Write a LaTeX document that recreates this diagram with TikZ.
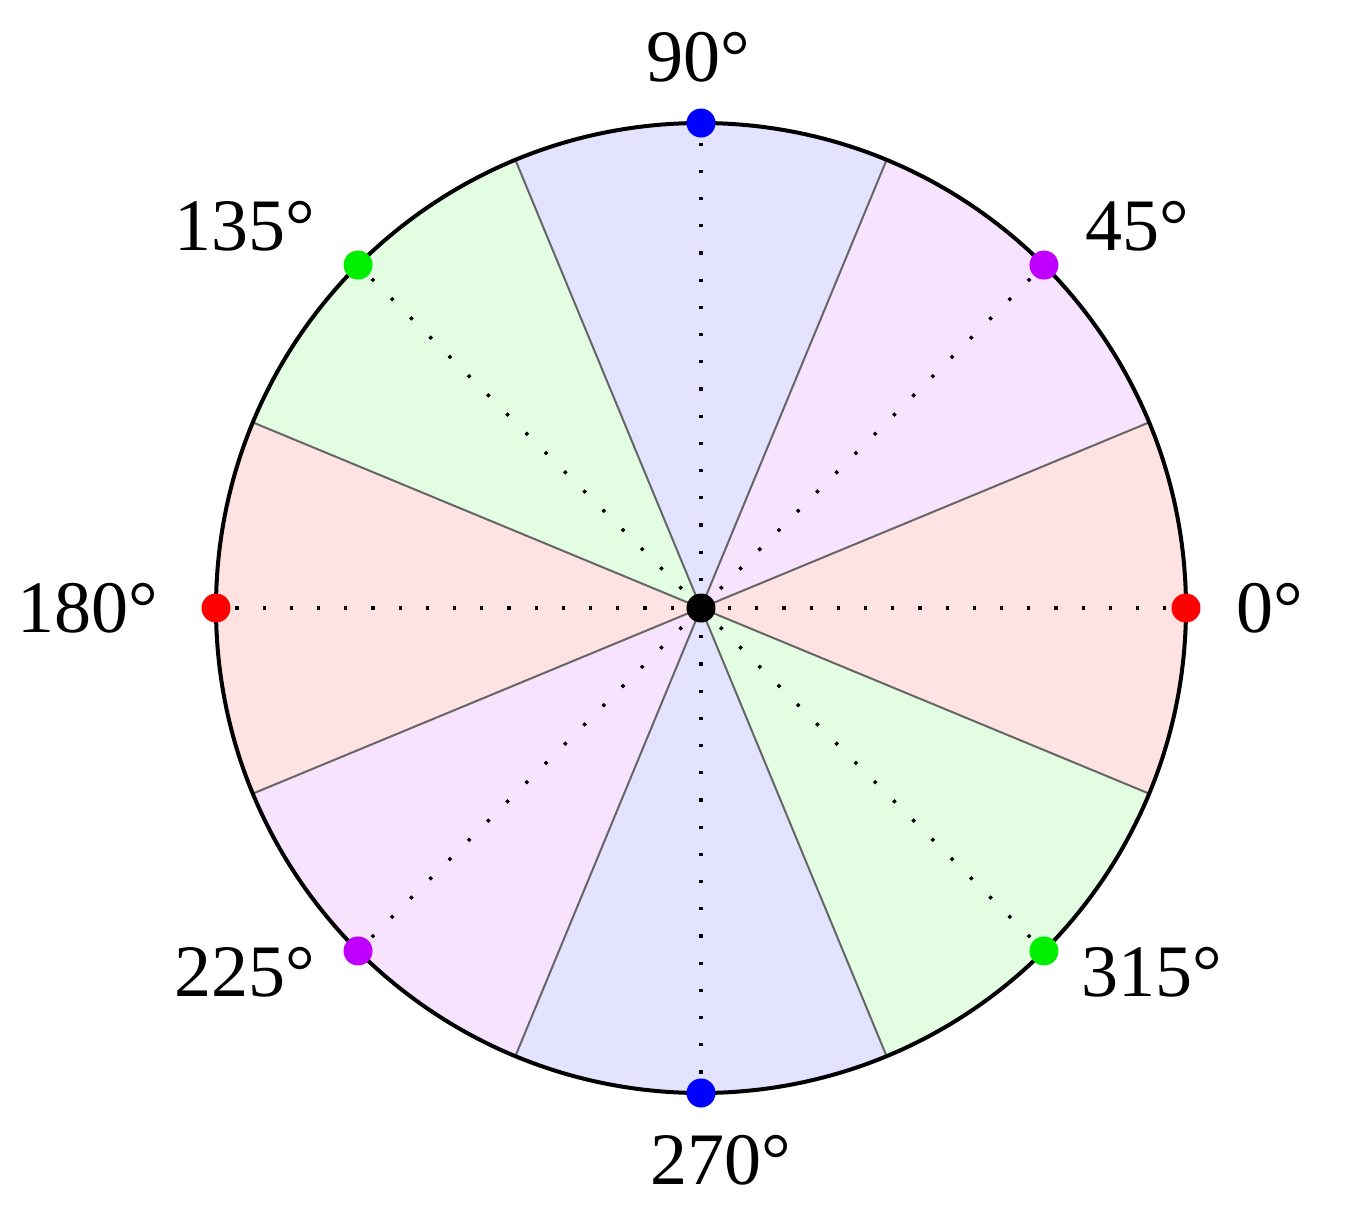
\documentclass[tikz,border=0pt]{standalone}
\usepackage{fontspec}
\setmainfont{Liberation Serif}
\definecolor{cR}{RGB}{255,0,0}
\definecolor{cP}{RGB}{191,0,255}
\definecolor{cB}{RGB}{0,0,255}
\definecolor{cG}{RGB}{0,238,0}
\begin{document}
\begin{tikzpicture}[x=0.5pt,y=0.5pt,
  lbl/.style={font=\fontsize{37}{40}\selectfont, inner sep=0pt},
  pt/.style={circle, fill=#1, minimum size=14.5pt, inner sep=0pt},
  ray/.style={line width=1.6pt, dash pattern=on 1.6pt off 12pt, dash phase=7.5pt, line cap=butt},
  bound/.style={line width=1pt, draw=black!60}]
\useasboundingbox (-701,-599) rectangle (645,608);
\def\R{485}
% sectors
\foreach \a/\c in {0/cR,45/cP,90/cB,135/cG,180/cR,225/cP,270/cB,315/cG}{
  \fill[\c!11] (0,0) -- (\a-22.5:\R) arc[start angle=\a-22.5, end angle=\a+22.5, radius=\R] -- cycle;
}
\foreach \a in {22.5,67.5,112.5,157.5}{
  \draw[bound] (\a:\R) -- (\a+180:\R);
}
\draw[line width=2pt] (0,0) circle[radius=\R];
\node[pt=black] (c) at (0,0) {};
\foreach \a/\c in {0/cR,45/cP,90/cB,135/cG,180/cR,225/cP,270/cB,315/cG}{
  \node[pt=\c] (d\a) at (\a:\R) {};
}
\foreach \a in {0,45,90,135,180,225,270,315}{
  \draw[ray] (c) -- (d\a);
}
% labels
\node[lbl] (l90) at (-3,551) {90°};
\node[lbl] (l45) at (436,382) {45°};
\node[lbl] (l0) at (569,0) {0°};
\node[lbl] (l315) at (451,-364) {315°};
\node[lbl] (l270) at (20,-552) {270°};
\node[lbl] (l225) at (-456,-364) {225°};
\node[lbl] (l180) at (-613,0) {180°};
\node[lbl] (l135) at (-456,382) {135°};
\end{tikzpicture}
\end{document}
